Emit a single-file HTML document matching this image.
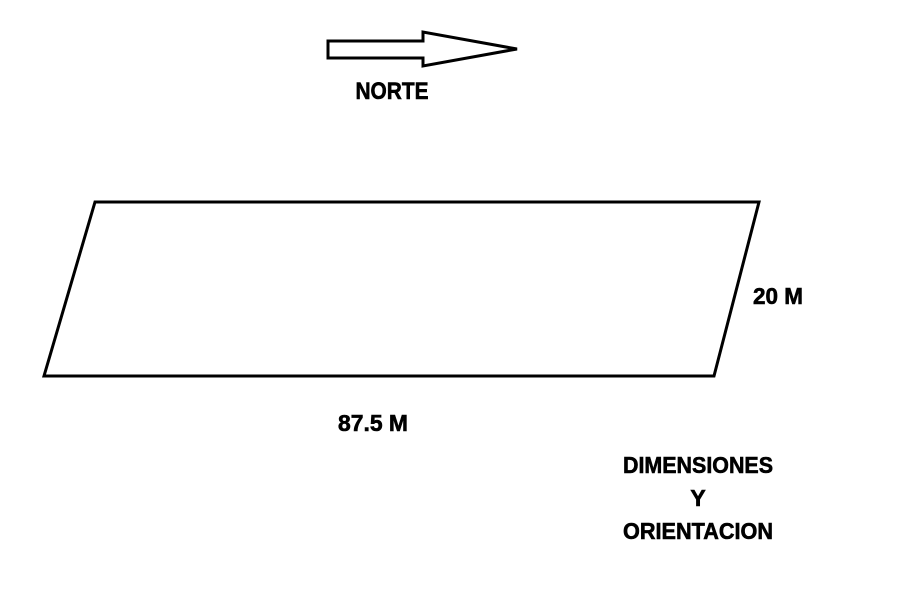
<!DOCTYPE html>
<html><head><style>
body{margin:0;background:#fff;}
svg text{font-family:"Liberation Sans",Arial,sans-serif;font-weight:bold;fill:#000;stroke:#000;stroke-width:0.6;}
</style></head><body>
<svg width="900" height="600" viewBox="0 0 900 600" xmlns="http://www.w3.org/2000/svg">
<rect width="900" height="600" fill="#fff"/>
<polygon points="328,41 423,41 423,32 517,49 423,66 423,58 328,58" fill="none" stroke="#000" stroke-width="3" stroke-linejoin="miter"/>
<text x="392" y="99" font-size="24" text-anchor="middle" textLength="73" lengthAdjust="spacingAndGlyphs">NORTE</text>
<polygon points="95,202 759,202 714,376 44,376" fill="none" stroke="#000" stroke-width="3"/>
<text x="778" y="304" font-size="23" text-anchor="middle" textLength="50" lengthAdjust="spacingAndGlyphs">20 M</text>
<text x="373" y="431" font-size="23" text-anchor="middle" textLength="70" lengthAdjust="spacingAndGlyphs">87.5 M</text>
<text x="698" y="473" font-size="23" text-anchor="middle" textLength="150" lengthAdjust="spacingAndGlyphs">DIMENSIONES</text>
<text x="698" y="506" font-size="23" text-anchor="middle">Y</text>
<text x="698" y="539" font-size="23" text-anchor="middle" textLength="150" lengthAdjust="spacingAndGlyphs">ORIENTACION</text>
</svg>
</body></html>
